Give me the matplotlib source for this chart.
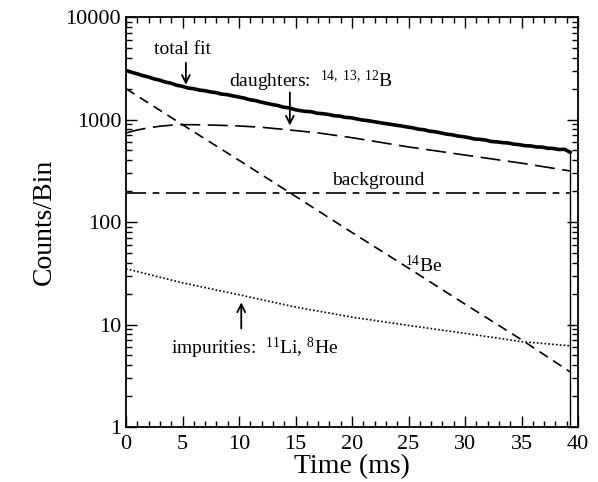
import matplotlib
matplotlib.use("Agg")
import matplotlib.pyplot as plt
import numpy as np

plt.rcParams['font.family'] = ['Liberation Serif', 'DejaVu Serif']
plt.rcParams['mathtext.fontset'] = 'custom'
plt.rcParams['mathtext.rm'] = 'Liberation Serif'
plt.rcParams['mathtext.it'] = 'Liberation Serif:italic'

t_bins = np.linspace(0, 39.3, 80)
counts = [3010, 2890, 2790, 2680, 2600, 2490, 2420, 2320, 2260, 2160,
          2110, 2030, 2000, 1940, 1910, 1860, 1830, 1770, 1750, 1700,
          1660, 1620, 1560, 1530, 1480, 1440, 1400, 1370, 1320, 1300,
          1250, 1220, 1200, 1190, 1150, 1140, 1120, 1090, 1080, 1050,
          1040, 1015, 990, 975, 955, 935, 915, 900, 880, 865,
          845, 830, 805, 795, 770, 760, 740, 720, 710, 690,
          680, 665, 645, 640, 630, 610, 605, 595, 590, 575,
          568, 555, 552, 540, 538, 525, 522, 510, 512, 480]

# fit components
t_daughters = [0, 1, 2, 3, 4, 5, 6, 8, 10, 12, 14.5, 17, 20, 25, 30, 35, 39.3]
daughters = [740, 790, 830, 860, 880, 890, 890, 880, 865, 840, 790, 740,
             665, 540, 450, 375, 315]

t_comp = [0, 5, 10, 15, 20, 25, 30, 35, 39.3]
be14 = [2000, 890, 400, 178, 79, 35.5, 15.8, 7.1, 3.45]
impurities = [35, 25.5, 19.5, 14.8, 11.8, 9.8, 8.2, 6.8, 6.2]
background = [190, 190, 190, 190, 190, 190, 190, 190, 190]

fig = plt.figure(figsize=(5.98, 4.82), dpi=100)
ax = fig.add_axes([0.2107, 0.1141, 0.7559, 0.8506])

ax.plot(t_bins, counts, color='black', lw=2.6)
ax.plot([t_bins[-1], t_bins[-1]], [counts[-1], 1], color='black', lw=1.0)
ax.plot(t_daughters, daughters, color='black', lw=1.2, dashes=(12, 4.5))
ax.plot(t_comp, be14, color='black', lw=1.2, dashes=(6, 3.8))
ax.plot(t_comp, background, color='black', lw=1.2, dashes=(12, 4, 4, 4))
ax.plot(t_comp, impurities, color='black', lw=1.2, dashes=(1, 1.3))

ax.set_yscale('log')
ax.set_xlim(0, 40)
ax.set_ylim(1, 10000)
ax.set_xticks([0, 5, 10, 15, 20, 25, 30, 35, 40])
ax.set_xticks(np.arange(0, 41, 1), minor=True)
ax.set_yticks([1, 10, 100, 1000, 10000])
ax.set_yticklabels(['1', '10', '100', '1000', '10000'])
ax.tick_params(which='both', direction='in', top=True, right=True,
               labelsize=16, width=1.0)
ax.tick_params(which='major', length=8)
ax.tick_params(which='minor', length=4)
ax.tick_params(axis='x', pad=6)
for s in ax.spines.values():
    s.set_linewidth(1.3)

ax.set_xlabel('Time (ms)', fontsize=20, labelpad=0)
ax.set_ylabel('Counts/Bin', fontsize=20)
ax.yaxis.set_label_coords(-0.152, 0.5)

arrow = dict(arrowstyle='->', color='black', lw=1.3, mutation_scale=14)
ax.annotate('', xy=(5.3, 2050), xytext=(5.3, 3800), arrowprops=arrow)
ax.text(5.0, 4800, 'total fit', fontsize=14, ha='center', va='center')

ax.annotate('', xy=(14.5, 820), xytext=(14.5, 1950), arrowprops=arrow)
ax.text(9.1, 2350, r'daughters:  $^{14,\ 13,\ 12}$B', fontsize=14,
        ha='left', va='center')

ax.text(22.3, 255, 'background', fontsize=14, ha='center', va='center')
ax.text(26.3, 38, r'$^{14}$Be', fontsize=14, ha='center', va='center')

ax.annotate('', xy=(10.2, 17.5), xytext=(10.2, 8.6), arrowprops=arrow)
ax.text(4.0, 5.9, r'impurities:  $^{11}$Li, $^{8}$He', fontsize=14,
        ha='left', va='center')

fig.savefig('out.png', dpi=100)
